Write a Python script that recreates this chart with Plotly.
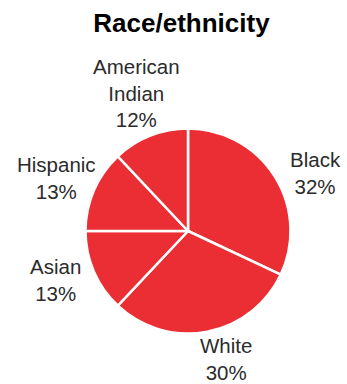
import plotly.graph_objects as go

categories = ["Black", "White", "Asian", "Hispanic", "American<br>Indian"]
values = [32, 30, 13, 13, 12]

# label centre positions (pixels) - layout only
label_px = [(315, 173), (226, 359), (55, 280), (56, 178), (136, 93)]

W, H = 347, 384
cx, cy, R = 188, 231, 102.5
RED = "#EA2E33"
FONT = "Liberation Sans, Arial, sans-serif"

fig = go.Figure(go.Pie(
    labels=categories,
    values=values,
    sort=False,
    direction="clockwise",
    rotation=0,
    textinfo="none",
    hoverinfo="label+percent",
    marker=dict(colors=[RED] * len(values), line=dict(color="white", width=2.5)),
    domain=dict(x=[(cx - R) / W, (cx + R) / W], y=[1 - (cy + R) / H, 1 - (cy - R) / H]),
    showlegend=False,
))

total = sum(values)
for cat, v, (px, py) in zip(categories, values, label_px):
    fig.add_annotation(
        x=px / W, y=1 - py / H, xref="paper", yref="paper",
        text=f"{cat}<br>{round(100 * v / total)}%",
        showarrow=False, xanchor="center", yanchor="middle",
        font=dict(family=FONT, size=20.5, color="#2b2b2b"),
    )

fig.update_layout(
    width=W, height=H,
    margin=dict(l=0, r=0, t=0, b=0),
    paper_bgcolor="white", plot_bgcolor="white",
    title=dict(text="<b>Race/ethnicity</b>", x=181.5 / W, xanchor="center",
               y=1 - 23 / H, yanchor="middle",
               font=dict(family=FONT, size=26, color="#000000")),
)

fig.write_html(
    "out.html",
    config={"displayModeBar": False},
    post_script="document.body.style.margin='0';document.body.style.padding='0';document.body.style.overflow='hidden';",
)
